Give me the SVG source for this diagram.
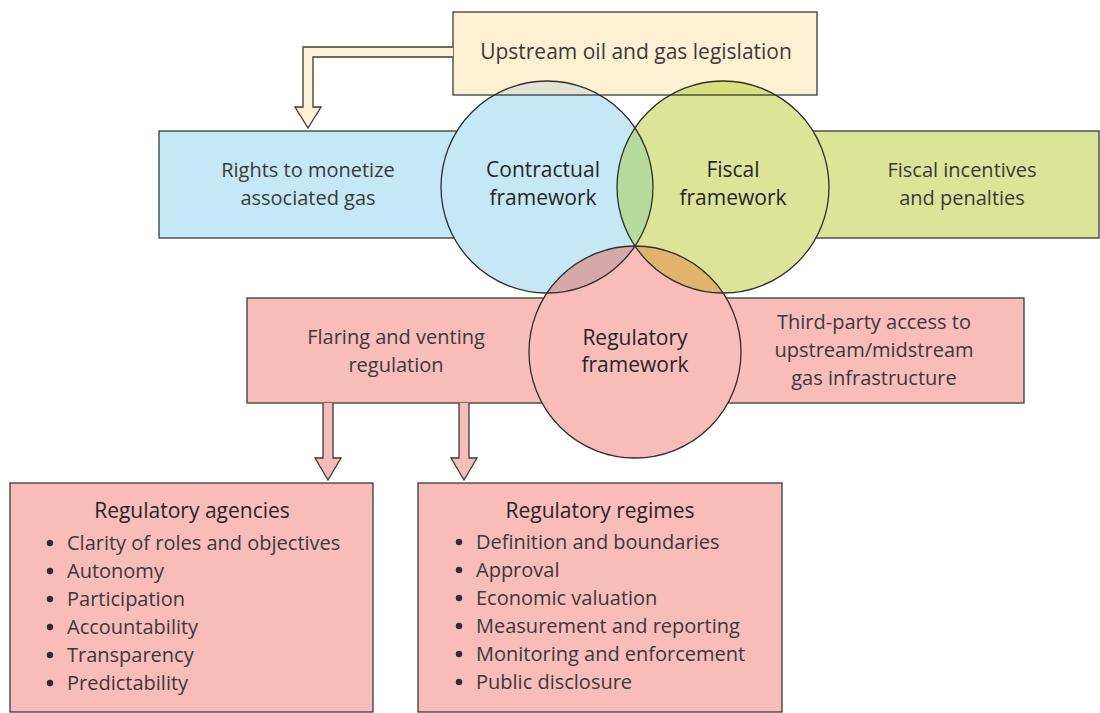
<svg xmlns="http://www.w3.org/2000/svg" width="1100" height="713" viewBox="0 0 1100 713">
<style>
text{font-family:"Open Sans","Noto Sans","Liberation Sans",sans-serif;font-size:20px;fill:#3a3a3a}
.c{text-anchor:middle}
.h{fill:#262626}
.big{font-size:21px}
.box{stroke:#3a3a3a;stroke-width:1.3}
.ol{fill:none;stroke:#2e2e2e;stroke-width:1.3}
.blue{fill:#c5e8f7}.green{fill:#dce597}.red{fill:#f8bdb8}.cream{fill:#fef0d2}
.dot{fill:#2e2e2e}
</style>
<defs>
<clipPath id="cpBlue"><circle cx="547" cy="187" r="106"/></clipPath>
<clipPath id="cpGreen"><circle cx="723" cy="187" r="106"/></clipPath>
<clipPath id="cpTop"><rect x="453" y="12" width="364" height="83"/></clipPath>
</defs>
<rect width="1100" height="713" fill="#ffffff"/>

<g id="rights-box"><rect class="box blue" x="159" y="131" width="330" height="107"/></g>
<g id="fiscal-incentives-box"><rect class="box green" x="780" y="131" width="319" height="107"/></g>
<g id="regulatory-box"><rect class="box red" x="247" y="298" width="777" height="105"/></g>

<g id="contractual-circle"><circle class="blue" cx="547" cy="187" r="106"/></g>
<g id="fiscal-circle"><circle class="green" cx="723" cy="187" r="106"/></g>
<g id="regulatory-circle"><circle class="red" cx="635" cy="352" r="106"/></g>

<g id="overlaps">
<g clip-path="url(#cpBlue)"><circle cx="723" cy="187" r="106" fill="#b6d99c"/><circle cx="635" cy="352" r="106" fill="#d6a9a8"/></g>
<g clip-path="url(#cpGreen)"><circle cx="635" cy="352" r="106" fill="#e0b46c"/></g>
</g>

<g id="legislation-box">
<rect class="cream" x="453" y="12" width="364" height="83"/>
<g clip-path="url(#cpTop)"><circle cx="547" cy="187" r="106" fill="#e1e4d2"/><circle cx="723" cy="187" r="106" fill="#d8e07a"/></g>
<rect class="box" fill="none" x="453" y="12" width="364" height="83"/>
<text class="c big" x="636" y="59">Upstream oil and gas legislation</text>
</g>

<g id="circle-outlines">
<circle class="ol" cx="547" cy="187" r="106"/>
<circle class="ol" cx="723" cy="187" r="106"/>
<circle class="ol" cx="635" cy="352" r="106"/>
</g>

<g id="connectors">
<path class="box cream" d="M453,47 L303,47 L303,107 L295,107 L308,128 L321,107 L313,107 L313,57 L453,57"/>
<path class="box red" d="M323,403 L323,458 L315,458 L328,480 L341,458 L333,458 L333,403"/>
<path class="box red" d="M459,403 L459,458 L451,458 L464,480 L477,458 L469,458 L469,403"/>
</g>

<g id="labels">
<text class="c" x="308" y="177">Rights to monetize</text>
<text class="c" x="308" y="205">associated gas</text>
<text class="c h big" x="543" y="177">Contractual</text>
<text class="c h big" x="543" y="205">framework</text>
<text class="c h big" x="733" y="177">Fiscal</text>
<text class="c h big" x="733" y="205">framework</text>
<text class="c" x="962" y="177">Fiscal incentives</text>
<text class="c" x="962" y="205">and penalties</text>
<text class="c" x="396" y="344">Flaring and venting</text>
<text class="c" x="396" y="372">regulation</text>
<text class="c h big" x="635" y="345">Regulatory</text>
<text class="c h big" x="635" y="372">framework</text>
<text class="c" x="874" y="329">Third-party access to</text>
<text class="c" x="874" y="357">upstream/midstream</text>
<text class="c" x="874" y="385">gas infrastructure</text>
</g>

<g id="agencies-box">
<rect class="box red" x="10" y="483" width="363" height="229"/>
<text class="c h big" x="192" y="518">Regulatory agencies</text>
<g>
<circle class="dot" cx="50" cy="543" r="3.2"/><text x="67" y="550">Clarity of roles and objectives</text>
<circle class="dot" cx="50" cy="571" r="3.2"/><text x="67" y="578">Autonomy</text>
<circle class="dot" cx="50" cy="599" r="3.2"/><text x="67" y="606">Participation</text>
<circle class="dot" cx="50" cy="627" r="3.2"/><text x="67" y="634">Accountability</text>
<circle class="dot" cx="50" cy="655" r="3.2"/><text x="67" y="662">Transparency</text>
<circle class="dot" cx="50" cy="683" r="3.2"/><text x="67" y="690">Predictability</text>
</g>
</g>

<g id="regimes-box">
<rect class="box red" x="418" y="483" width="364" height="229"/>
<text class="c h big" x="600" y="518">Regulatory regimes</text>
<g>
<circle class="dot" cx="459" cy="542" r="3.2"/><text x="476" y="549">Definition and boundaries</text>
<circle class="dot" cx="459" cy="570" r="3.2"/><text x="476" y="577">Approval</text>
<circle class="dot" cx="459" cy="598" r="3.2"/><text x="476" y="605">Economic valuation</text>
<circle class="dot" cx="459" cy="626" r="3.2"/><text x="476" y="633">Measurement and reporting</text>
<circle class="dot" cx="459" cy="654" r="3.2"/><text x="476" y="661">Monitoring and enforcement</text>
<circle class="dot" cx="459" cy="682" r="3.2"/><text x="476" y="689">Public disclosure</text>
</g>
</g>
</svg>
